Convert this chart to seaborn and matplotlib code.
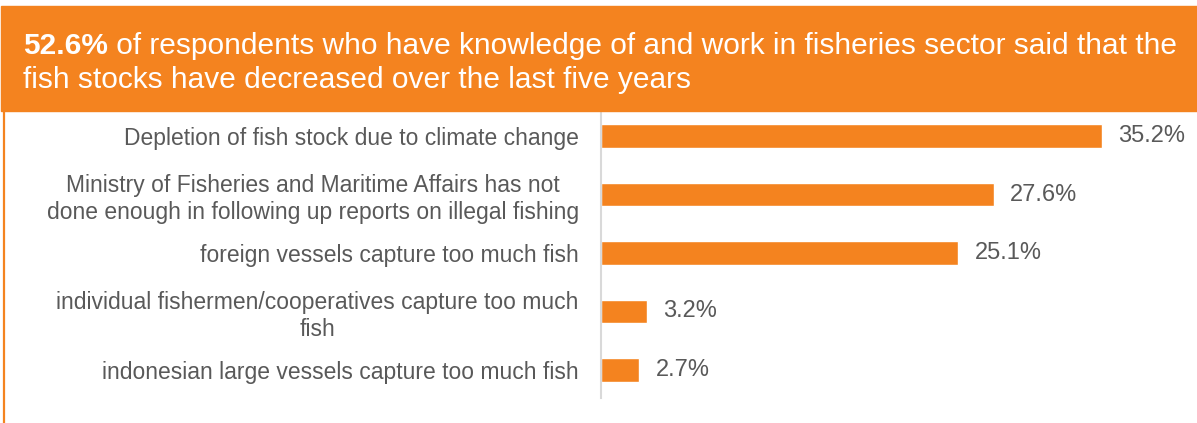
import matplotlib.pyplot as plt
import seaborn as sns
import pandas as pd
from matplotlib.patches import Rectangle
from matplotlib.lines import Line2D
from matplotlib.text import Annotation

# Data
reasons = [
    'Depletion of fish stock due to climate change',
    'Ministry of Fisheries and Maritime Affairs has not\ndone enough in following up reports on illegal fishing',
    'foreign vessels capture too much fish',
    'individual fishermen/cooperatives capture too much\nfish',
    'indonesian large vessels capture too much fish',
]
shares = [35.2, 27.6, 25.1, 3.2, 2.7]
headline_value = '52.6%'
headline_rest = ' of respondents who have knowledge of and work in fisheries sector said that the'
headline_line2 = 'fish stocks have decreased over the last five years'

df = pd.DataFrame({'reason': reasons, 'share': shares})

orange = '#F4831F'
grey_text = '#595959'

sns.set_style('white')
plt.rcParams['font.family'] = ['Liberation Sans', 'DejaVu Sans']

W, H = 1197, 423
fig = plt.figure(figsize=(W / 100, H / 100), dpi=100)

# Axes placed so the bar area starts at x=601 px
ax = fig.add_axes([601 / W, 1 - 398 / H, (W - 601) / W, 287 / H])
sns.barplot(data=df, x='share', y='reason', orient='h', color=orange,
            saturation=1, width=0.4, ax=ax)

ax.set_xlim(0, 41.9)
ax.set_ylim(4.48, -0.43)
ax.set_xlabel('')
ax.set_ylabel('')
ax.set_xticks([])
for s in ['top', 'right', 'bottom']:
    ax.spines[s].set_visible(False)
ax.spines['left'].set_color('#D9D9D9')
ax.spines['left'].set_linewidth(1.5)
ax.tick_params(axis='y', length=0, pad=16)
for lbl in ax.get_yticklabels():
    lbl.set_fontsize(16.5)
    lbl.set_color(grey_text)
    lbl.set_multialignment('center')

ax.bar_label(ax.containers[0], fmt='%.1f%%', padding=12,
             fontsize=17, color=grey_text)

# Header banner
fig.patches.append(Rectangle((1 / W, 1 - 111 / H), 1, 105 / H,
                             transform=fig.transFigure, color=orange, zorder=0))
# left border line
fig.add_artist(Line2D([3.5 / W, 3.5 / W], [0, 1 - 111 / H],
                      transform=fig.transFigure, color=orange, linewidth=1.6))

t1 = fig.text(23 / W, 1 - 54 / H, headline_value, fontsize=21.5,
              fontweight='bold', color='white', va='baseline', zorder=3)
rest = Annotation(headline_rest, xy=(1, 0), xycoords=t1, va='bottom', ha='left',
                  fontsize=21.5, color='white', annotation_clip=False)
rest.set_zorder(3)
fig.add_artist(rest)
fig.text(23 / W, 1 - 88 / H, headline_line2, fontsize=21.5,
         color='white', va='baseline', zorder=3)

fig.savefig('out.png', dpi=100)
